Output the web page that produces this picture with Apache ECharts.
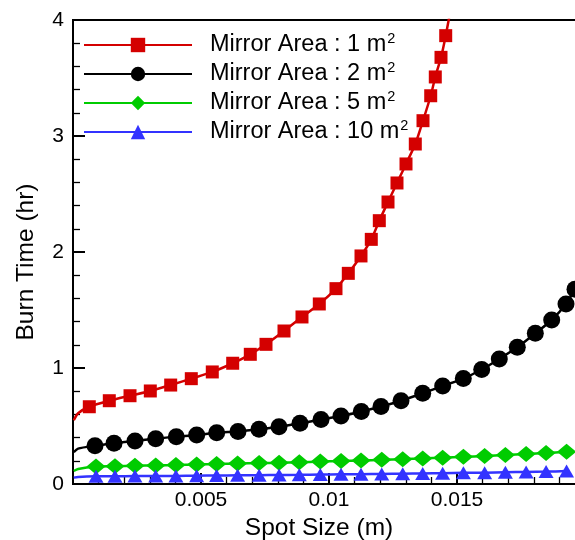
<!DOCTYPE html>
<html>
<head>
<meta charset="utf-8">
<script src="https://cdn.jsdelivr.net/npm/echarts@6/dist/echarts.min.js"></script>
<style>html,body{margin:0;padding:0;background:#fff}#c{width:575px;height:540px}</style>
</head>
<body>
<div id="c"></div>
<script>
const seriesNames = ['Mirror Area : 1 m', 'Mirror Area : 2 m', 'Mirror Area : 5 m', 'Mirror Area : 10 m'];
const xTickLabels = ['0.005', '0.01', '0.015'];
const yTickLabels = ['0', '1', '2', '3', '4'];

// curve end points (no marker)
const redEndX = [0.00003, 0.0002];
const redEndY = [0.55, 0.61];
const redTailX = [0.0148];
const redTailY = [4.15];
const redX = [0.000637, 0.001418, 0.002227, 0.003020, 0.003816, 0.004621, 0.005441, 0.006238, 0.006926, 0.007539, 0.008242, 0.008945, 0.009621, 0.010273, 0.010754, 0.011250, 0.011652, 0.011965, 0.012305, 0.012656, 0.013008, 0.013371, 0.013672, 0.013973, 0.014152, 0.014375, 0.014559];
const redY = [0.666, 0.718, 0.761, 0.802, 0.853, 0.908, 0.966, 1.041, 1.118, 1.204, 1.319, 1.440, 1.552, 1.684, 1.816, 1.966, 2.109, 2.270, 2.431, 2.595, 2.759, 2.931, 3.132, 3.347, 3.509, 3.678, 3.865];

const blackEndX = [0.00003, 0.0002];
const blackEndY = [0.275, 0.305];
const blackX = [0.000859, 0.001602, 0.002422, 0.003230, 0.004035, 0.004832, 0.005613, 0.006445, 0.007266, 0.008047, 0.008867, 0.009688, 0.010469, 0.011262, 0.012031, 0.012813, 0.013660, 0.014441, 0.015246, 0.015965, 0.016652, 0.017355, 0.018059, 0.018699, 0.019258, 0.019609];
const blackY = [0.330, 0.351, 0.371, 0.391, 0.408, 0.422, 0.442, 0.453, 0.472, 0.494, 0.523, 0.556, 0.586, 0.625, 0.668, 0.718, 0.782, 0.845, 0.909, 0.987, 1.078, 1.178, 1.299, 1.414, 1.552, 1.678];

const greenEndX = [0.00003, 0.0002];
const greenEndY = [0.112, 0.13];
const greenX = [0.000898, 0.00164, 0.00242, 0.00323, 0.00402, 0.00483, 0.00561, 0.00643, 0.00727, 0.00805, 0.00884, 0.00966, 0.01047, 0.01125, 0.01206, 0.01288, 0.01366, 0.01444, 0.01525, 0.01608, 0.01689, 0.01770, 0.01848, 0.01928];
const greenY = [0.150, 0.153, 0.157, 0.160, 0.164, 0.168, 0.172, 0.176, 0.180, 0.184, 0.188, 0.193, 0.198, 0.203, 0.208, 0.214, 0.220, 0.227, 0.234, 0.242, 0.250, 0.259, 0.268, 0.278];

const blueEndX = [0.00003, 0.0002];
const blueEndY = [0.055, 0.06];
const blueX = [0.000898, 0.00164, 0.00242, 0.00323, 0.00402, 0.00483, 0.00561, 0.00643, 0.00727, 0.00805, 0.00884, 0.00966, 0.01047, 0.01125, 0.01206, 0.01288, 0.01366, 0.01444, 0.01525, 0.01608, 0.01689, 0.01770, 0.01848, 0.01928];
const blueY = [0.066, 0.067, 0.068, 0.069, 0.070, 0.072, 0.073, 0.075, 0.076, 0.078, 0.079, 0.081, 0.083, 0.085, 0.087, 0.089, 0.091, 0.093, 0.096, 0.098, 0.101, 0.104, 0.107, 0.111];

function build(ex, ey, mx, my, tx, ty) {
  const d = [];
  ex.forEach((x, i) => d.push({ value: [x, ey[i]], symbol: 'none' }));
  mx.forEach((x, i) => d.push({ value: [x, my[i]] }));
  (tx || []).forEach((x, i) => d.push({ value: [x, ty[i]], symbol: 'none' }));
  return d;
}

const FONT = '"Liberation Sans", Arial, sans-serif';
const colors = ['#d40000', '#000000', '#00cc00', '#3333ff'];
const symbols = ['rect', 'circle', 'diamond', 'triangle'];
const sizes = [13, 17, [19, 16], [15, 13]];
const datas = [
  build(redEndX, redEndY, redX, redY, redTailX, redTailY),
  build(blackEndX, blackEndY, blackX, blackY),
  build(greenEndX, greenEndY, greenX, greenY),
  build(blueEndX, blueEndY, blueX, blueY)
];

const chart = echarts.init(document.getElementById('c'), null, { renderer: 'canvas' });
chart.setOption({
  backgroundColor: '#fff',
  animation: false,
  textStyle: { fontFamily: FONT },
  grid: { left: 73, top: 20, width: 512, height: 464, outerBoundsMode: 'none', containLabel: false, show: true, borderColor: '#000', borderWidth: 2, backgroundColor: 'transparent' },
  legend: {
    orient: 'vertical', left: 78, top: 26.5,
    itemWidth: 108, itemHeight: 18, itemGap: 3.5,
    data: seriesNames,
    formatter: n => '{a|' + n + '}{s|2}',
    textStyle: {
      padding: [0, 0, 0, 13],
      rich: {
        a: { fontFamily: FONT, fontSize: 23.5, color: '#000' },
        s: { fontFamily: FONT, fontSize: 14.5, color: '#000', padding: [0, 0, 12, 1] }
      }
    }
  },
  xAxis: {
    type: 'value', min: 0, max: 0.02, interval: 0.005,
    name: 'Spot Size (m)', nameLocation: 'middle', nameGap: 16,
    nameTextStyle: { fontFamily: FONT, fontSize: 24.5, color: '#000', padding: [0, 20, 0, 0] },
    axisLine: { lineStyle: { color: '#000', width: 2 } },
    axisTick: { inside: true, length: 11, lineStyle: { color: '#000', width: 2 } },
    minorTick: { show: true, splitNumber: 5, length: 7, lineStyle: { color: '#000', width: 1.3 } },
    splitLine: { show: false },
    axisLabel: {
      fontFamily: FONT, fontSize: 21, color: '#000', margin: 6,
      formatter: v => { const s = xTickLabels.find(t => Math.abs(parseFloat(t) - v) < 1e-9); return s || ''; }
    }
  },
  yAxis: {
    type: 'value', min: 0, max: 4, interval: 1,
    name: 'Burn Time (hr)', nameLocation: 'middle', nameGap: 34,
    nameTextStyle: { fontFamily: FONT, fontSize: 24.5, color: '#000', padding: [0, 20, 0, 0] },
    axisLine: { lineStyle: { color: '#000', width: 2 } },
    axisTick: { inside: true, length: 12, lineStyle: { color: '#000', width: 2 } },
    minorTick: { show: true, splitNumber: 5, length: 7, lineStyle: { color: '#000', width: 1.3 } },
    splitLine: { show: false },
    axisLabel: {
      fontFamily: FONT, fontSize: 21, color: '#000', margin: 9,
      formatter: v => yTickLabels[Math.round(v)] || ''
    }
  },
  series: seriesNames.map((n, i) => ({
    name: n, type: 'line', data: datas[i],
    symbol: symbols[i], symbolSize: sizes[i], showAllSymbol: true,
    smooth: 0.25, clip: true,
    lineStyle: { color: colors[i], width: 2.5 },
    itemStyle: { color: colors[i], borderWidth: 0 },
    emphasis: { disabled: true }
  }))
});
</script>
</body>
</html>
